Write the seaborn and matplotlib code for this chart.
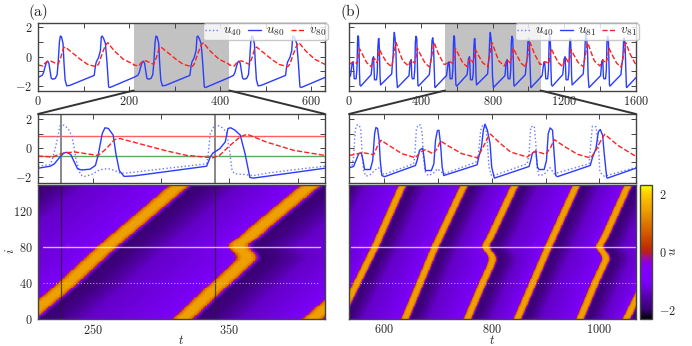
import numpy as np
import matplotlib
matplotlib.use('Agg')
import matplotlib.pyplot as plt
import seaborn as sns
from matplotlib.colors import LinearSegmentedColormap
from matplotlib.patches import ConnectionPatch

# traces (one full cycle each)
u80_t = [210,219,222,226,229,231,234,236,239,242,248,252,254,257,259,261.5,265,267,269.5,273,280,333.4,336,338,343,347,349,351,354,358,361.5,365,367.5,420]
u80_v = [-1.41,-1.27,-1.1,-.63,-.35,-.3,-.45,-.87,-1.46,-1.53,-1.48,-1.22,-.5,1.0,1.41,1.36,.9,-.4,-1.58,-1.98,-1.95,-1.27,-.63,-.35,-.05,.42,1.36,1.41,1.25,.9,-.4,-2.05,-2.1,-1.41]
u40a_t = [210,219,221,224,226,229,232,235,238,241,244,249,254,258,263,266,270.5,275,333.4,334.6,336,339.5,344,348,350.5,352,354,361.5,367.5,377,402,420]
u40a_v = [-1.27,-1.15,-.63,.54,1.53,1.6,1.36,.78,-.87,-1.86,-1.98,-1.86,-1.58,-1.46,-1.46,-1.58,-1.76,-1.74,-1.1,-.4,1.0,1.65,1.48,1.1,-.4,-1.58,-1.8,-1.85,-1.93,-1.76,-1.46,-1.27]
v80_t = [210,221,225,230,237,245.6,254,260,266,270,304,319,338,343,350.5,358,363,377,397,420]
v80_v = [-.56,-.63,-.45,-.33,-.28,-.4,-.52,-.05,.59,.66,-.2,-.52,-.68,-.5,.18,.78,.96,.42,-.16,-.52]

u81_t = [535.5,543.5,548,553,558,561,564,574.6,579,582.6,585,588,591,593,596,601,658.4,661.5,666,672,675,677,688,692.6,695.7,699,702,705,708,711,773,776,781,784.5,787.6,792,797,800,805,869.4,872.5,875.6,882,885,888,897.4,901.7,905,908.5,913,916,919,922,983,987.4,993.6,998,1001.7,1006,1009,1013.5,1015,1070]
u81_v = [-1.38,-1.29,-.87,-.4,-.35,-.87,-1.5,-1.5,-.87,1.0,1.43,1.36,.54,-.87,-1.92,-2.0,-1.22,-.87,-.16,0,-.87,-1.57,-1.57,-1.1,.54,1.2,1.24,.3,-1.33,-1.92,-1.17,-.63,.07,1.24,1.66,1.24,.3,-1.33,-2.1,-1.29,-.87,-.35,-.2,-1.33,-1.5,-1.5,-.87,1.0,1.4,1.24,-.4,-1.92,-2.0,-1.22,-.63,-.05,1.12,1.29,.89,-.4,-2.04,-2.1,-1.38]
u40b_t = [535.5,540.4,543.5,546.6,549.7,554,557,559,562,566.5,574.6,584,590,599.4,655,657,660,663,668,671,673,677,682,690.7,699,711,770,775,779.5,784,789,792,795,800,866,869.4,872.5,879,882,884,888,897,908.5,916,981,984,987,993.6,998,1001,1009,1065,1070]
u40b_v = [-1.33,-1.29,-.63,1.24,1.6,1.6,1.24,-.16,-1.57,-1.97,-1.85,-1.52,-1.38,-1.85,-1.1,-.63,1.24,1.6,1.6,1.0,-.63,-1.69,-1.92,-1.8,-1.45,-1.8,-1.0,-.63,1.24,1.66,1.6,.3,-1.33,-1.97,-1.1,-.4,1.48,1.52,.3,-1.33,-1.92,-1.85,-1.38,-1.8,-1.1,.3,1.52,1.48,.3,-1.69,-1.97,-1.38,-1.33]
v81_t = [535.5,546.6,556,565,581,587,594.4,608.7,633.6,658.4,667.7,677,690.7,698.8,705,720.5,745,773.3,782.6,795,798,816.6,835,866,875.6,882,900.5,910,916,934.6,959.5,984,993.6,1003,1010,1034,1065,1070]
v81_v = [-.52,-.44,-.35,-.35,-.47,.07,.54,.19,-.4,-.68,-.28,-.12,-.4,-.05,.49,.12,-.4,-.68,-.05,.89,.96,.3,-.28,-.63,-.35,-.23,-.44,.07,.59,.12,-.44,-.7,-.16,.54,.96,.19,-.52,-.52]

# where the bright band crosses each row: (site i, time t)
band1_i, band1_t = [0,12,34,40,80,149], [201,210,227.6,232,260.4,314]
band2_i, band2_t = [0,34,40,58,62,65,68,71,74,77,80,83,86,90,100,149], [316,339.5,344.4,357,360,361.8,362.5,361.8,360,358,356.6,357,359,364,371,410]
bandA_i, bandA_t = [0,21,80,149], [517,534.4,583.3,634.7]
bandB_i, bandB_t = [0,80,149], [639,694.7,749.2]
bandC_i, bandC_t = [0,40,58,62,65,68,71,74,77,80,84,90,149], [754.8,783.2,797,799.8,801.2,801,798.5,794.5,791,788.8,790.5,796.9,843.3]
bandD_i, bandD_t = [0,80,149], [847.6,905.2,957.8]
bandE_i, bandE_t = [0,40,58,62,65,68,71,74,77,80,84,90,149], [964,992,1006,1009.5,1011.5,1011.5,1009.5,1006,1002.5,1000,1002.5,1009,1053.7]

# u across a band, relative to its centre
prof_dt = [-9,-8,-7,-6,-3,3,6,7,8,9.5,11.5,22,45]
prof_u = [-1.05,-0.3,0.5,1.0,1.45,1.45,1.0,0.4,-0.6,-1.6,-1.95,-1.85,-1.35]

# faint reddish spots on row 80
spots_a = [232,348]
spots_b = [555,672,785,880,995]
spot_rows = [77,78,79,80,81,82,83,84]
spot_amp = [-1.0,-0.6,-0.3,-0.2,-0.2,-0.3,-0.6,-1.0]

sns.set_theme(style='ticks')
plt.rcParams['font.family'] = ['cmr10', 'DejaVu Serif']
plt.rcParams['mathtext.fontset'] = 'cm'
plt.rcParams['axes.formatter.use_mathtext'] = True
plt.rcParams['axes.edgecolor'] = '#444444'
plt.rcParams['axes.linewidth'] = 1.0
plt.rcParams['axes.unicode_minus'] = False

W, H = 692, 346
cmap = LinearSegmentedColormap.from_list('pm3d', [
    (0.00, '#000000'), (0.07, '#380070'), (0.15, '#5000a0'), (0.27, '#7c00f8'),
    (0.36, '#8000ff'), (0.42, '#8a00e0'), (0.46, '#a01090'), (0.50, '#b82020'),
    (0.54, '#c03000'), (0.68, '#d86800'), (0.80, '#eb9a00'), (0.93, '#ffc800'),
    (1.00, '#ffff00')])


def axes_px(x0, y0, x1, y1):
    return fig.add_axes([x0 / W, 1 - y1 / H, (x1 - x0) / W, (y1 - y0) / H])


def style(ax, labels=True):
    ax.tick_params(which='both', direction='in', top=True, right=True, length=3.5,
                   width=0.7, color='#444444', labelsize=8.8, pad=4)
    if not labels:
        ax.set_yticklabels([])


def line(ax, t, v, color, ls, lw, label=None):
    sns.lineplot(x=t, y=v, ax=ax, color=color, linestyle=ls, linewidth=lw, label=label,
                 estimator=None, sort=False, legend=False)


def repeat(t, v, shifts):
    return (np.concatenate([np.array(t) + s for s in shifts]),
            np.concatenate([np.array(v) for s in shifts]))


def paint_field(t, bands, spots):
    # every row is drawn through the read band profile, then the spots on top
    field = np.zeros((150, len(t)))
    for i in range(150):
        xp, fp = [], []
        for bi, bt, shift in bands:
            c = np.interp(i, bi, bt) + shift
            next_c = [np.interp(i, b[0], b[1]) + b[2] for b in bands if np.interp(i, b[0], b[1]) + b[2] > c]
            gap = (min(next_c) - c) if next_c else 1e9
            for d, u in zip(prof_dt, prof_u):
                if d < gap - 9:
                    xp.append(c + d)
                    fp.append(u)
        field[i] = np.interp(t, xp, fp)
    for s in spots:
        for r, amp in zip(spot_rows, spot_amp):
            field[r] = np.maximum(field[r], np.interp(t, [s - 5, s, s + 5], [-2.5, amp, -2.5]))
    return field


fig = plt.figure(figsize=(W / 100, H / 100), dpi=100)

panels = [
    dict(x0=38, x1=325, tmax=630, t0=210, t1=420, ticks=[0,200,400,600], minor=100,
         u40=(u40a_t, u40a_v), u=(u80_t, u80_v), v=(v80_t, v80_v), shifts=[-210,0,210],
         names=('$u_{40}$', '$u_{80}$', '$v_{80}$'), hticks=[250,300,350,400], hlabels=[250,350],
         bands=[(band2_i, band2_t, -210), (band1_i, band1_t, 0), (band2_i, band2_t, 0), (band1_i, band1_t, 210)],
         spots=spots_a, hl=(214, 416), tag='(a)', tagx=28, ylabels=True),
    dict(x0=349, x1=636, tmax=1600, t0=535, t1=1068, ticks=[0,400,800,1200,1600], minor=200,
         u40=(u40b_t, u40b_v), u=(u81_t, u81_v), v=(v81_t, v81_v), shifts=[-535,0,533],
         names=('$u_{40}$', '$u_{81}$', '$v_{81}$'), hticks=[600,700,800,900,1000], hlabels=[600,800,1000],
         bands=[(bandE_i, bandE_t, -533), (bandA_i, bandA_t, 0), (bandB_i, bandB_t, 0), (bandC_i, bandC_t, 0),
                (bandD_i, bandD_t, 0), (bandE_i, bandE_t, 0), (bandA_i, bandA_t, 533)],
         spots=spots_b, hl=(538, 1066), tag='(b)', tagx=340, ylabels=False),
]

for p in panels:
    # top: long trace, u40 only appears in the legend
    ax1 = axes_px(p['x0'], 23, p['x1'], 90.5)
    ax1.axvspan(p['t0'], p['t1'], color='#c2c2c2', lw=0, zorder=0)
    ax1.plot([], [], color='#6a78ff', ls=':', lw=1.0, label=p['names'][0])
    line(ax1, *repeat(*p['u'], p['shifts']), '#2a3cff', '-', 1.0, p['names'][1])
    line(ax1, *repeat(*p['v'], p['shifts']), '#ff2020', '--', 1.0, p['names'][2])
    ax1.set_xlim(0, p['tmax'])
    ax1.set_ylim(-2.3, 2.3)
    ax1.set_xticks(np.arange(0, p['tmax'] + 1, p['minor']))
    ax1.set_xticklabels(['$%d$' % x if x in p['ticks'] else '' for x in ax1.get_xticks()])
    ax1.set_yticks([-2,-1,0,1,2])
    ax1.set_yticklabels(['$-2$','','$0$','','$2$'] if p['ylabels'] else [])
    style(ax1)
    ax1.tick_params(axis='x', pad=3.5)
    ax1.legend(loc='upper right', bbox_to_anchor=(1.01, 1.0), ncol=3, fontsize=9.5, frameon=True, framealpha=0.8,
               edgecolor='#bbbbbb', borderpad=0.15, borderaxespad=0, handlelength=1.0, handletextpad=0.35,
               columnspacing=0.5, labelspacing=0)

    # middle: zoomed trace
    ax2 = axes_px(p['x0'], 114, p['x1'], 183)
    if p['ylabels']:
        ax2.axhline(0.85, color='#ff6060', lw=1.0, zorder=1)
        ax2.axhline(-0.55, color='#60a860', lw=1.0, zorder=1)
        for vt in (227, 339.5):
            ax2.axvline(vt, color='#888888', lw=1.4, zorder=1)
    line(ax2, p['u40'][0], p['u40'][1], '#6a78ff', ':', 1.0)
    line(ax2, p['u'][0], p['u'][1], '#2a3cff', '-', 1.0)
    line(ax2, p['v'][0], p['v'][1], '#ff2020', '--', 1.0)
    ax2.set_xlim(p['t0'], p['t1'])
    ax2.set_ylim(-2.44, 2.37)
    ax2.set_xticks(p['hticks'])
    ax2.set_xticklabels([])
    ax2.set_yticks([-2,-1,0,1,2])
    ax2.set_yticklabels(['$-2$','','$0$','','$2$'] if p['ylabels'] else [])
    style(ax2)

    for side_t in (p['t0'], p['t1']):
        con = ConnectionPatch(xyA=(side_t, -2.3), coordsA=ax1.transData,
                              xyB=(side_t, 2.37), coordsB=ax2.transData,
                              color='#333333', lw=1.4)
        fig.add_artist(con)

    # bottom: space-time heatmap
    ax3 = axes_px(p['x0'], 185, p['x1'], 319)
    tgrid = np.arange(p['t0'], p['t1'], 0.5)
    field = paint_field(tgrid, p['bands'], p['spots'])
    if p['ylabels']:
        sns.heatmap(field, ax=ax3, cmap=cmap, vmin=-2.3, vmax=2.3, cbar=False,
                    xticklabels=False, yticklabels=False)
    else:
        cax = axes_px(640, 185, 652, 319)
        sns.heatmap(field, ax=ax3, cmap=cmap, vmin=-2.3, vmax=2.3, cbar=True, cbar_ax=cax,
                    xticklabels=False, yticklabels=False)
        cbar = ax3.collections[0].colorbar
        cbar.set_ticks([-2, 0, 2])
        cbar.set_ticklabels(['$-2$', '$0$', '$2$'])
        cax.tick_params(direction='in', length=4, width=0.8, color='#111111', labelsize=8.8, pad=5)
        cbar.outline.set_visible(True)
        cbar.outline.set_edgecolor('#444444')
        cbar.outline.set_linewidth(1.0)
        fig.text(673 / W, 1 - 251 / H, '$u$', rotation=90, fontsize=9.5, ha='center', va='center')
    ax3.invert_yaxis()
    for s in ax3.spines.values():
        s.set_visible(True)
        s.set_edgecolor('#444444')
        s.set_linewidth(1.0)

    to_x = lambda vt: (np.asarray(vt, dtype=float) - p['t0']) / 0.5
    if p['ylabels']:
        for vt in (227, 339.5):
            ax3.axvline(to_x(vt), color='#222222', lw=0.9, alpha=0.7)
    ax3.plot(to_x(p['hl']), [80, 80], color='white', lw=1.0, alpha=0.7)
    ax3.plot(to_x(p['hl']), [40, 40], color='#e8b8ff', lw=0.8, ls=(0, (1, 1.8)), alpha=0.8)
    ax3.set_xlim(0, len(tgrid))
    ax3.set_ylim(0, 149)
    ax3.set_xticks(to_x(p['hticks']))
    ax3.set_xticklabels(['$%d$' % x if x in p['hlabels'] else '' for x in p['hticks']])
    ax3.set_yticks(np.arange(0, 141, 20))
    ax3.set_yticklabels(['$%d$' % y if y % 40 == 0 else '' for y in range(0, 141, 20)] if p['ylabels'] else [], rotation=0)
    style(ax3)
    ax3.tick_params(axis='x', pad=3)
    fig.text(((p['x0'] + p['x1']) / 2 - 0.5) / W, 1 - 340.5 / H, '$t$', fontsize=9, ha='center', va='center')

    fig.text(p['tagx'] / W, 1 - 12.5 / H, p['tag'], fontsize=11, ha='left', va='center', color='#222222')

fig.text(10 / W, 1 - 251 / H, '$i$', rotation=90, fontsize=9.5, ha='center', va='center')

fig.savefig('out.png', dpi=100)
